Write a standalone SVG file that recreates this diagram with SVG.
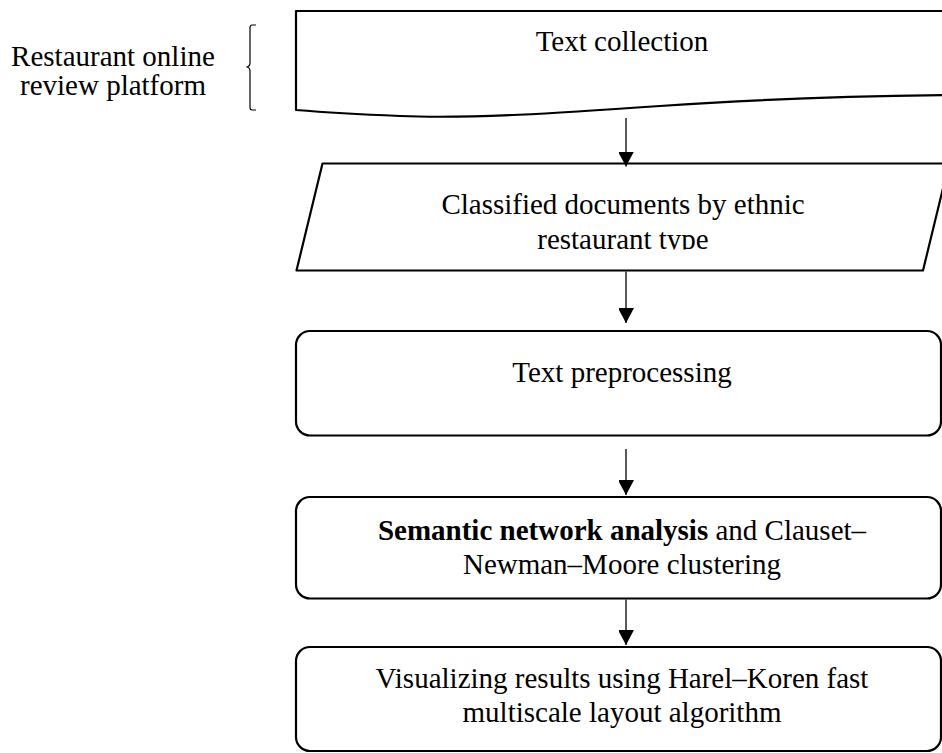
<svg xmlns="http://www.w3.org/2000/svg" width="942" height="753" viewBox="0 0 942 753">
  <style>
    .box { fill: #fff; stroke: #000; stroke-width: 2.2; stroke-linejoin: round; }
    .lbl { font-family: "Liberation Serif", "Times New Roman", serif; font-size: 29px; fill: #000; text-anchor: middle; }
    .b { font-weight: bold; }
    .conn { stroke: #000; stroke-width: 1.3; fill: none; }
    .brace { stroke: #000; stroke-width: 1.2; fill: none; }
  </style>
  <defs>
    <marker id="arrow" markerUnits="userSpaceOnUse" markerWidth="16" markerHeight="15" refX="15" refY="8" orient="auto">
      <path d="M0,0 L15,8 L0,16 Z" fill="#000"/>
    </marker>
    <clipPath id="clip-docs">
      <rect x="280" y="160" width="680" height="89.5"/>
    </clipPath>
  </defs>

  <!-- source label with curly brace -->
  <g id="source">
    <text class="lbl" x="113" y="66">Restaurant online</text>
    <text class="lbl" x="113" y="95">review platform</text>
    <path class="brace" d="M256,25 L252,25 Q250,25 250,28 L250,63 Q250,66.5 246.5,67 Q250,67.5 250,71 L250,107 Q250,110 252,110 L256,110"/>
  </g>

  <!-- document shape -->
  <g id="text-collection">
    <path class="box" d="M296,11 L960,11 L960,95 C 860,96 760,99 660,106 C 560,113 470,119 400,116 C 350,114 320,112 296,110 Z"/>
    <text class="lbl" x="622" y="51">Text collection</text>
  </g>

  <!-- data parallelogram -->
  <g id="classified-documents">
    <path class="box" d="M322.5,163.5 L949,163.5 L923,270.5 L296.5,270.5 Z"/>
    <g clip-path="url(#clip-docs)">
      <text class="lbl" x="623" y="213.5">Classified documents by ethnic</text>
      <text class="lbl" x="623" y="248.5">restaurant type</text>
    </g>
  </g>

  <g id="text-preprocessing">
    <rect class="box" x="296" y="331" width="645" height="104.5" rx="14" ry="14"/>
    <text class="lbl" x="622" y="381.5">Text preprocessing</text>
  </g>

  <g id="semantic-network-analysis">
    <rect class="box" x="296" y="497" width="645" height="101.5" rx="14" ry="14"/>
    <text class="lbl" x="622" y="540"><tspan class="b">Semantic network analysis</tspan> and Clauset–</text>
    <text class="lbl" x="622" y="574">Newman–Moore clustering</text>
  </g>

  <g id="visualizing-results">
    <rect class="box" x="296" y="647" width="645" height="104" rx="14" ry="14"/>
    <text class="lbl" x="622" y="687.5">Visualizing results using Harel–Koren fast</text>
    <text class="lbl" x="622" y="722">multiscale layout algorithm</text>
  </g>

  <!-- connectors -->
  <g id="connectors">
    <line class="conn" x1="626" y1="118" x2="626" y2="166.5" marker-end="url(#arrow)"/>
    <line class="conn" x1="626" y1="271.5" x2="626" y2="323" marker-end="url(#arrow)"/>
    <line class="conn" x1="626" y1="449" x2="626" y2="495" marker-end="url(#arrow)"/>
    <line class="conn" x1="626" y1="599.5" x2="626" y2="645" marker-end="url(#arrow)"/>
  </g>
</svg>
